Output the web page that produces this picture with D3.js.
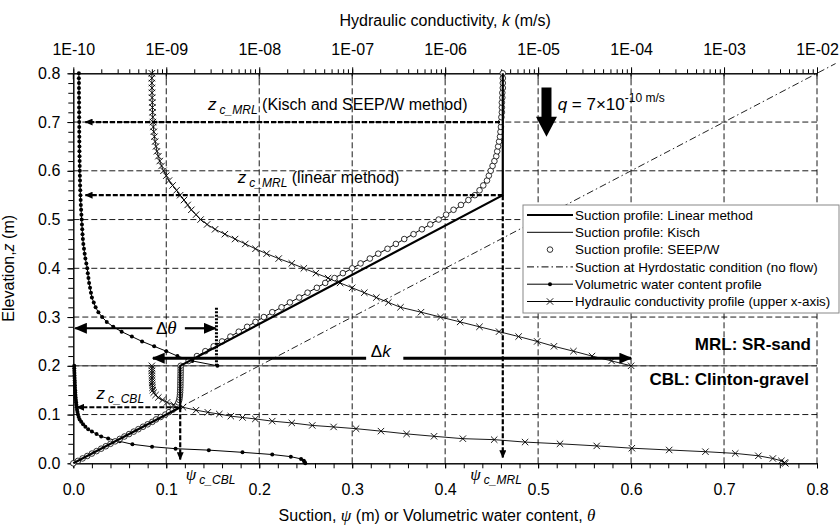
<!DOCTYPE html>
<html>
<head>
<meta charset="utf-8">
<style>
  body { margin: 0; background: #fff; }
  svg { font-family: "Liberation Sans", Arial, sans-serif; }
  .axis text { font-size: 16px; fill: #000; font-family: "Liberation Sans", Arial, sans-serif; }
  .axis path, .axis line { stroke: #000; }
  .legend text { font-size: 13.4px; }
  .greek { font-family: "Liberation Serif", "DejaVu Serif", serif; font-style: italic; }
</style>
</head>
<body>
<svg width="840" height="526"></svg>
<script src="https://d3js.org/d3.v7.min.js"></script>
<script>

// ---- data ----
// suction profiles, [suction psi (m), elevation z (m)]
var linearProfile = [[0, 0], [0.115, 0.115], [0.115, 0.2], [0.462, 0.55], [0.462, 0.8]];

var kischProfile = [[0, 0], [0.05, 0.05], [0.099, 0.10], [0.107, 0.11], [0.112, 0.12], [0.114, 0.13],
  [0.115, 0.15], [0.1155, 0.20], [0.160, 0.25], [0.205, 0.30], [0.252, 0.35], [0.300, 0.40],
  [0.347, 0.45], [0.393, 0.50], [0.414, 0.525], [0.432, 0.55], [0.442, 0.575], [0.449, 0.60],
  [0.454, 0.625], [0.457, 0.65], [0.460, 0.70], [0.461, 0.75], [0.462, 0.80]];

var seepProfile = [
  [0, 0], [0.005, 0.005], [0.010, 0.010], [0.015, 0.015], [0.020, 0.020], [0.025, 0.025],
  [0.030, 0.030], [0.035, 0.035], [0.040, 0.040], [0.045, 0.045], [0.050, 0.050], [0.055, 0.055],
  [0.060, 0.060], [0.065, 0.065], [0.070, 0.070], [0.075, 0.075], [0.080, 0.080], [0.085, 0.085],
  [0.089, 0.090], [0.094, 0.095], [0.099, 0.100], [0.103, 0.105], [0.107, 0.110], [0.110, 0.115],
  [0.112, 0.120], [0.113, 0.125], [0.114, 0.130], [0.1144, 0.135], [0.1147, 0.140], [0.1149, 0.145],
  [0.115, 0.150], [0.1151, 0.155], [0.1152, 0.160], [0.1152, 0.165], [0.1153, 0.170], [0.1153, 0.175],
  [0.1154, 0.180], [0.1154, 0.185], [0.1155, 0.190], [0.1155, 0.195], [0.1155, 0.200],
  [0.124, 0.21], [0.133, 0.22], [0.142, 0.23], [0.151, 0.24], [0.160, 0.25], [0.169, 0.26],
  [0.178, 0.27], [0.187, 0.28], [0.196, 0.29], [0.205, 0.30], [0.214, 0.31], [0.224, 0.32],
  [0.233, 0.33], [0.243, 0.34], [0.252, 0.35], [0.262, 0.36], [0.271, 0.37], [0.281, 0.38],
  [0.290, 0.39], [0.300, 0.40], [0.309, 0.41], [0.319, 0.42], [0.328, 0.43], [0.338, 0.44],
  [0.347, 0.45], [0.356, 0.46], [0.366, 0.47], [0.375, 0.48], [0.384, 0.49], [0.393, 0.50],
  [0.401, 0.51], [0.409, 0.52], [0.417, 0.53], [0.425, 0.54], [0.432, 0.55], [0.437, 0.56],
  [0.441, 0.57], [0.445, 0.58], [0.447, 0.59], [0.449, 0.60], [0.451, 0.61], [0.453, 0.62],
  [0.455, 0.63], [0.456, 0.64], [0.457, 0.65], [0.458, 0.66], [0.459, 0.67], [0.4595, 0.68],
  [0.460, 0.69], [0.460, 0.70], [0.4605, 0.71], [0.461, 0.72], [0.461, 0.73], [0.461, 0.74],
  [0.4615, 0.75], [0.4615, 0.76], [0.462, 0.77], [0.462, 0.78], [0.462, 0.79], [0.462, 0.80]];

var hydrostatic = [[0, 0], [0.82, 0.82]];

// volumetric water content, [theta, z]
var vwcMRL = [
  [0.155, 0.20], [0.128, 0.21], [0.112, 0.22], [0.100, 0.23], [0.087, 0.24], [0.074, 0.25],
  [0.063, 0.26], [0.052, 0.27], [0.043, 0.28], [0.036, 0.29], [0.031, 0.30], [0.027, 0.31],
  [0.024, 0.32], [0.022, 0.33], [0.020, 0.34], [0.019, 0.35], [0.018, 0.36], [0.017, 0.37],
  [0.0163, 0.38], [0.0156, 0.39], [0.0150, 0.40], [0.0140, 0.41], [0.0130, 0.42], [0.0122, 0.43],
  [0.0115, 0.44], [0.0108, 0.45], [0.0103, 0.46], [0.0099, 0.47], [0.0096, 0.48], [0.0093, 0.49],
  [0.0090, 0.50], [0.0087, 0.51], [0.0084, 0.52], [0.0081, 0.53], [0.0079, 0.54], [0.0077, 0.55],
  [0.0075, 0.56], [0.0073, 0.57], [0.0072, 0.58], [0.0071, 0.59], [0.0070, 0.60], [0.0069, 0.61],
  [0.0068, 0.62], [0.0067, 0.63], [0.0066, 0.64], [0.0066, 0.65], [0.0065, 0.66], [0.0065, 0.67],
  [0.0064, 0.68], [0.0064, 0.69], [0.0064, 0.70], [0.0063, 0.71], [0.0063, 0.72], [0.0062, 0.73],
  [0.0062, 0.74], [0.0062, 0.75], [0.0061, 0.76], [0.0061, 0.77], [0.0061, 0.78], [0.0060, 0.79],
  [0.0060, 0.80]];

var vwcCBL = [
  [0.001, 0.200], [0.001, 0.195], [0.0011, 0.190], [0.0012, 0.185], [0.0013, 0.180], [0.0014, 0.175],
  [0.0015, 0.170], [0.0016, 0.165], [0.0017, 0.160], [0.0018, 0.155], [0.002, 0.150], [0.0021, 0.145],
  [0.0023, 0.140], [0.0025, 0.135], [0.0028, 0.130], [0.003, 0.125], [0.0033, 0.120], [0.0037, 0.115],
  [0.004, 0.110], [0.0045, 0.105], [0.005, 0.100], [0.0058, 0.095], [0.0068, 0.090], [0.0085, 0.085],
  [0.0105, 0.080], [0.013, 0.075], [0.016, 0.070], [0.020, 0.065], [0.025, 0.060], [0.030, 0.055],
  [0.0375, 0.051], [0.050, 0.045], [0.0636, 0.039], [0.0847, 0.034], [0.110, 0.030], [0.1458, 0.027],
  [0.182, 0.0225], [0.214, 0.018], [0.234, 0.0136], [0.245, 0.009], [0.248, 0.005], [0.249, 0.002],
  [0.2495, 0.0]];

// hydraulic conductivity, [k (m/s), z]  (upper axis)
var kMRL = [
  [7.00e-10, 0.80], [7.00e-10, 0.79], [7.00e-10, 0.78], [7.02e-10, 0.77], [7.03e-10, 0.76],
  [7.05e-10, 0.75], [7.08e-10, 0.74], [7.10e-10, 0.73], [7.13e-10, 0.72], [7.16e-10, 0.71],
  [7.19e-10, 0.70], [7.26e-10, 0.69], [7.34e-10, 0.68], [7.46e-10, 0.67], [7.59e-10, 0.66],
  [7.76e-10, 0.65], [7.94e-10, 0.64], [8.22e-10, 0.63], [8.51e-10, 0.62], [8.91e-10, 0.61],
  [9.33e-10, 0.60], [1.00e-9, 0.59], [1.07e-9, 0.58], [1.17e-9, 0.57], [1.29e-9, 0.56],
  [1.41e-9, 0.55], [1.55e-9, 0.54], [1.70e-9, 0.53], [1.86e-9, 0.52], [2.09e-9, 0.51],
  [2.34e-9, 0.50], [2.75e-9, 0.49], [3.35e-9, 0.48], [4.27e-9, 0.47], [5.50e-9, 0.46],
  [7.08e-9, 0.45], [9.12e-9, 0.44], [1.20e-8, 0.43], [1.62e-8, 0.42], [2.24e-8, 0.41],
  [3.02e-8, 0.40], [4.07e-8, 0.39], [5.50e-8, 0.38], [7.41e-8, 0.37], [1.00e-7, 0.36],
  [1.35e-7, 0.35], [1.82e-7, 0.34], [2.45e-7, 0.33], [3.31e-7, 0.32], [5.50e-7, 0.31],
  [8.91e-7, 0.30], [1.45e-6, 0.29], [2.34e-6, 0.28], [3.80e-6, 0.27], [6.17e-6, 0.26],
  [9.77e-6, 0.25], [1.48e-5, 0.24], [2.40e-5, 0.23], [3.80e-5, 0.22], [6.17e-5, 0.21],
  [1.00e-4, 0.20]];

var kCBL = [
  [7.00e-10, 0.200], [7.00e-10, 0.195], [7.00e-10, 0.190], [7.00e-10, 0.185], [7.02e-10, 0.180],
  [7.02e-10, 0.175], [7.03e-10, 0.170], [7.05e-10, 0.165], [7.08e-10, 0.160], [7.11e-10, 0.155],
  [7.16e-10, 0.150], [7.33e-10, 0.145], [7.67e-10, 0.140], [8.22e-10, 0.135], [9.12e-10, 0.130],
  [1.02e-9, 0.125], [1.20e-9, 0.120], [1.51e-9, 0.115], [2.09e-9, 0.109], [2.80e-9, 0.1046],
  [3.72e-9, 0.101], [4.95e-9, 0.0967], [6.61e-9, 0.094], [9.08e-9, 0.091], [1.38e-8, 0.0865],
  [2.24e-8, 0.0828], [3.72e-8, 0.0777], [6.31e-8, 0.0746], [1.10e-7, 0.071], [2.04e-7, 0.066],
  [3.85e-7, 0.0603], [7.59e-7, 0.0554], [1.55e-6, 0.0505], [3.37e-6, 0.0485], [7.24e-6, 0.0435],
  [1.72e-5, 0.040], [4.27e-5, 0.0357], [1.02e-4, 0.031], [2.57e-4, 0.0273], [6.31e-4, 0.0238],
  [1.32e-3, 0.0203], [2.34e-3, 0.0154], [3.35e-3, 0.0099], [4.14e-3, 0.005], [4.47e-3, 0.0014],
  [4.57e-3, 0.0]];

var xTicks = [0, 0.1, 0.2, 0.3, 0.4, 0.5, 0.6, 0.7, 0.8];
var yTicks = [0, 0.1, 0.2, 0.3, 0.4, 0.5, 0.6, 0.7, 0.8];
var kTicks = [1e-10, 1e-9, 1e-8, 1e-7, 1e-6, 1e-5, 1e-4, 1e-3, 1e-2];
var kTickLabels = ["1E-10", "1E-09", "1E-08", "1E-07", "1E-06", "1E-05", "1E-04", "1E-03", "1E-02"];

var legendLabels = [
  "Suction profile: Linear method",
  "Suction profile: Kisch",
  "Suction profile: SEEP/W",
  "Suction at Hyrdostatic condition (no flow)",
  "Volumetric water content profile",
  "Hydraulic conductivity profile (upper x-axis)"];

// ---- chart ----
var svg = d3.select("svg"),
    width = +svg.attr("width"),
    height = +svg.attr("height"),
    margin = {top: 73.3, right: 23, bottom: 62.7, left: 73.3};

var x = d3.scaleLinear().domain([0, 0.8]).range([margin.left, width - margin.right]);
var y = d3.scaleLinear().domain([0, 0.8]).range([height - margin.bottom, margin.top]);
var xk = d3.scaleLog().domain([1e-10, 1e-2]).range(x.range());

var defs = svg.append("defs");
function arrowMarker(id, w, h) {
  defs.append("marker")
      .attr("id", id)
      .attr("viewBox", "0 0 10 10")
      .attr("refX", 9).attr("refY", 5)
      .attr("markerUnits", "userSpaceOnUse")
      .attr("markerWidth", w).attr("markerHeight", h)
      .attr("preserveAspectRatio", "none")
      .attr("orient", "auto-start-reverse")
    .append("path")
      .attr("d", "M0,0L10,5L0,10Z")
      .attr("fill", "#000");
}
arrowMarker("headS", 8, 7);
arrowMarker("headL", 13, 11);

// grid
var grid = svg.append("g")
    .attr("stroke", "#000")
    .attr("stroke-width", 0.9)
    .attr("stroke-dasharray", "6,3");
grid.selectAll("line.v")
  .data(xTicks.slice(1))
  .enter().append("line")
    .attr("class", "v")
    .attr("x1", function(d) { return x(d); })
    .attr("x2", function(d) { return x(d); })
    .attr("y1", y(0)).attr("y2", y(0.8));
grid.selectAll("line.h")
  .data(yTicks.slice(1, -1))
  .enter().append("line")
    .attr("class", "h")
    .attr("x1", x(0)).attr("x2", x(0.8))
    .attr("y1", function(d) { return y(d); })
    .attr("y2", function(d) { return y(d); });

// layer boundary
svg.append("line")
    .attr("x1", x(0)).attr("x2", x(0.8))
    .attr("y1", y(0.2)).attr("y2", y(0.2))
    .attr("stroke", "#444").attr("stroke-width", 1);

// axes
svg.append("g").attr("class", "axis")
    .attr("transform", "translate(0," + y(0) + ")")
    .call(d3.axisBottom(x).tickValues(x.ticks(40)).tickSize(5).tickSizeOuter(0).tickFormat(""));
svg.append("g").attr("class", "axis")
    .attr("transform", "translate(0," + y(0) + ")")
    .call(d3.axisBottom(x).tickValues(xTicks).tickSize(5).tickSizeOuter(0)
      .tickPadding(15).tickFormat(d3.format(".1f")));

svg.append("g").attr("class", "axis")
    .attr("transform", "translate(" + x(0) + ",0)")
    .call(d3.axisLeft(y).tickValues(y.ticks(40)).tickSize(5).tickSizeOuter(0).tickFormat(""));
svg.append("g").attr("class", "axis")
    .attr("transform", "translate(" + x(0) + ",0)")
    .call(d3.axisLeft(y).tickValues(yTicks).tickSize(6).tickSizeOuter(0)
      .tickPadding(7).tickFormat(d3.format(".1f")));

svg.append("g").attr("class", "axis")
    .attr("transform", "translate(0," + y(0.8) + ")")
    .call(d3.axisTop(xk).tickValues(xk.ticks()).tickSize(4).tickSizeOuter(0).tickFormat(""));
svg.append("g").attr("class", "axis")
    .attr("transform", "translate(0," + y(0.8) + ")")
    .call(d3.axisTop(xk).tickValues(kTicks).tickSize(6).tickSizeOuter(0)
      .tickPadding(12).tickFormat(function(d, i) { return kTickLabels[i]; }));
// major k ticks cross the axis line
svg.append("g").selectAll("line")
  .data(kTicks)
  .enter().append("line")
    .attr("x1", function(d) { return xk(d); })
    .attr("x2", function(d) { return xk(d); })
    .attr("y1", y(0.8)).attr("y2", y(0.8) + 6)
    .attr("stroke", "#000");

// axis titles
var topTitle = svg.append("text")
    .attr("x", (x(0) + x(0.8)) / 2).attr("y", 26)
    .attr("text-anchor", "middle").attr("font-size", 16);
topTitle.append("tspan").text("Hydraulic conductivity, ");
topTitle.append("tspan").attr("font-style", "italic").text("k");
topTitle.append("tspan").text(" (m/s)");

var botTitle = svg.append("text")
    .attr("x", 437).attr("y", 521)
    .attr("text-anchor", "middle").attr("font-size", 16);
botTitle.append("tspan").text("Suction, ");
botTitle.append("tspan").attr("class", "greek").attr("font-size", 17).text("ψ");
botTitle.append("tspan").text(" (m) or Volumetric water content, ");
botTitle.append("tspan").attr("class", "greek").attr("font-size", 17).text("θ");

var leftTitle = svg.append("text")
    .attr("transform", "translate(14," + (y(0.4)) + ") rotate(-90)")
    .attr("text-anchor", "middle").attr("font-size", 16);
leftTitle.append("tspan").text("Elevation,");
leftTitle.append("tspan").attr("font-style", "italic").text("z");
leftTitle.append("tspan").text(" (m)");

// hydrostatic line
var line = d3.line()
    .x(function(d) { return x(d[0]); })
    .y(function(d) { return y(d[1]); });
var lineK = d3.line()
    .x(function(d) { return xk(d[0]); })
    .y(function(d) { return y(d[1]); });

svg.append("path")
    .datum(hydrostatic)
    .attr("d", line)
    .attr("fill", "none").attr("stroke", "#222")
    .attr("stroke-width", 1)
    .attr("stroke-dasharray", "7,3,1.5,3");

// volumetric water content
[vwcMRL, vwcCBL].forEach(function(series) {
  svg.append("path")
      .datum(series)
      .attr("d", line)
      .attr("fill", "none").attr("stroke", "#000").attr("stroke-width", 1);
  svg.append("g").selectAll("circle")
    .data(series)
    .enter().append("circle")
      .attr("cx", function(d) { return x(d[0]); })
      .attr("cy", function(d) { return y(d[1]); })
      .attr("r", 2)
      .attr("fill", "#000");
});

// hydraulic conductivity
[kMRL, kCBL].forEach(function(series) {
  svg.append("path")
      .datum(series)
      .attr("d", lineK)
      .attr("fill", "none").attr("stroke", "#000").attr("stroke-width", 0.9);
  svg.append("g").selectAll("path")
    .data(series)
    .enter().append("path")
      .attr("transform", function(d) { return "translate(" + xk(d[0]) + "," + y(d[1]) + ")"; })
      .attr("d", "M-3.2,-3.2L3.2,3.2M-3.2,3.2L3.2,-3.2")
      .attr("stroke", "#000").attr("stroke-width", 0.9);
});

// suction: Kisch, SEEP/W, linear
svg.append("path")
    .datum(kischProfile)
    .attr("d", line)
    .attr("fill", "none").attr("stroke", "#000").attr("stroke-width", 1);

svg.append("g").selectAll("circle")
  .data(seepProfile)
  .enter().append("circle")
    .attr("cx", function(d) { return x(d[0]); })
    .attr("cy", function(d) { return y(d[1]); })
    .attr("r", 2.8)
    .attr("fill", "#fff")
    .attr("stroke", "#000").attr("stroke-width", 0.8);

svg.append("path")
    .datum(linearProfile)
    .attr("d", line)
    .attr("fill", "none").attr("stroke", "#000").attr("stroke-width", 2.2);

// ---- annotations ----
var ann = svg.append("g");

function dashArrow(x1, y1, x2, y2) {
  ann.append("line")
      .attr("x1", x1).attr("y1", y1).attr("x2", x2).attr("y2", y2)
      .attr("stroke", "#000").attr("stroke-width", 2.2)
      .attr("stroke-dasharray", "5,2")
      .attr("marker-end", "url(#headS)");
}
dashArrow(x(0.459), y(0.70), x(0.013), y(0.70));
dashArrow(x(0.462), y(0.55), x(0.013), y(0.55));
dashArrow(x(0.113), y(0.115), x(0.004), y(0.115));
dashArrow(x(0.462), y(0.55), x(0.462), y(0.012));
dashArrow(x(0.115), y(0.115), x(0.115), y(0.008));

// delta theta
ann.append("line")
    .attr("x1", x(0.085)).attr("x2", x(0.002))
    .attr("y1", y(0.277)).attr("y2", y(0.277))
    .attr("stroke", "#000").attr("stroke-width", 2.2)
    .attr("marker-end", "url(#headL)");
ann.append("line")
    .attr("x1", x(0.12)).attr("x2", x(0.153))
    .attr("y1", y(0.277)).attr("y2", y(0.277))
    .attr("stroke", "#000").attr("stroke-width", 2.2)
    .attr("marker-end", "url(#headL)");
ann.append("line")
    .attr("x1", x(0.154)).attr("x2", x(0.154))
    .attr("y1", y(0.2)).attr("y2", y(0.32))
    .attr("stroke", "#000").attr("stroke-width", 3)
    .attr("stroke-dasharray", "2,1.5");
var dTheta = ann.append("text")
    .attr("x", x(0.1)).attr("y", y(0.265))
    .attr("text-anchor", "middle").attr("font-size", 17);
dTheta.append("tspan").text("Δ");
dTheta.append("tspan").attr("class", "greek").attr("font-size", 19).text("θ");

// delta k : double arrow with its label sitting in a white box on the line
ann.append("line")
    .attr("x1", xk(7.2e-10)).attr("x2", xk(1e-4))
    .attr("y1", y(0.2156)).attr("y2", y(0.2156))
    .attr("stroke", "#000").attr("stroke-width", 3)
    .attr("marker-start", "url(#headL)")
    .attr("marker-end", "url(#headL)");
ann.append("rect")
    .attr("x", x(0.315)).attr("y", y(0.252))
    .attr("width", x(0.355) - x(0.315)).attr("height", y(0.206) - y(0.252))
    .attr("fill", "#fff");
var dK = ann.append("text")
    .attr("x", x(0.32)).attr("y", y(0.2175))
    .attr("font-size", 17);
dK.append("tspan").text("Δ");
dK.append("tspan").attr("font-style", "italic").text("k");

// critical elevation / suction labels
function subLabel(px, py, main, sub, rest, greek) {
  var t = ann.append("text").attr("x", px).attr("y", py).attr("font-size", 16);
  t.append("tspan")
      .attr("class", greek ? "greek" : null)
      .attr("font-style", "italic")
      .attr("font-size", 17)
      .text(main);
  t.append("tspan")
      .attr("font-style", "italic").attr("font-size", 12)
      .attr("dx", 3).attr("dy", 4)
      .text(sub);
  if (rest) t.append("tspan").attr("dy", -4).text(rest);
  return t;
}
subLabel(x(0.145), y(0.724), "z", "c_MRL", " (Kisch and SEEP/W method)");
subLabel(x(0.177), y(0.576), "z", "c_MRL", " (linear method)");
subLabel(x(0.025), y(0.132), "z", "c_CBL");
subLabel(x(0.121), y(-0.034), "ψ", "c_CBL", null, true);
subLabel(x(0.427), y(-0.034), "ψ", "c_MRL", null, true);

// layer names
ann.append("text")
    .attr("x", 811).attr("y", y(0.232))
    .attr("text-anchor", "end").attr("font-size", 17).attr("font-weight", "bold")
    .text("MRL: SR-sand");
ann.append("text")
    .attr("x", 809).attr("y", y(0.161))
    .attr("text-anchor", "end").attr("font-size", 17).attr("font-weight", "bold")
    .text("CBL: Clinton-gravel");

// infiltration arrow q
var qx = x(0.509), qy1 = y(0.771), qy2 = y(0.670);
ann.append("path")
    .attr("d", "M" + (qx - 5) + "," + qy1 + "L" + (qx + 5) + "," + qy1 +
               "L" + (qx + 5) + "," + (qy2 - 20) + "L" + (qx + 10.5) + "," + (qy2 - 20) +
               "L" + qx + "," + qy2 + "L" + (qx - 10.5) + "," + (qy2 - 20) +
               "L" + (qx - 5) + "," + (qy2 - 20) + "Z")
    .attr("fill", "#000");
var qText = ann.append("text")
    .attr("x", x(0.521)).attr("y", y(0.724))
    .attr("font-size", 17);
qText.append("tspan").attr("font-style", "italic").text("q");
qText.append("tspan").text(" = 7×10");
qText.append("tspan").attr("font-size", 12).attr("dy", -8).text("-10 m/s");

// ---- legend ----
var legend = svg.append("g").attr("class", "legend");
legend.append("rect")
    .attr("x", 523).attr("y", 205)
    .attr("width", 316).attr("height", 108)
    .attr("fill", "#fff").attr("stroke", "#888").attr("stroke-width", 1);

var rows = legend.selectAll("g.row")
  .data(legendLabels)
  .enter().append("g")
    .attr("class", "row")
    .attr("transform", function(d, i) { return "translate(527," + (215 + i * 17.3) + ")"; });

rows.append("text")
    .attr("x", 48).attr("dy", "0.35em")
    .text(function(d) { return d; });

rows.each(function(d, i) {
  var r = d3.select(this);
  if (i !== 2) {
    r.append("line")
        .attr("x1", 0).attr("x2", 46)
        .attr("stroke", "#000")
        .attr("stroke-width", i === 0 ? 2.2 : 1)
        .attr("stroke-dasharray", i === 3 ? "7,3,1.5,3" : null);
  }
  if (i === 2) {
    r.append("circle").attr("cx", 23).attr("r", 2.8)
        .attr("fill", "#fff").attr("stroke", "#000").attr("stroke-width", 0.8);
  }
  if (i === 4) {
    r.append("circle").attr("cx", 23).attr("r", 2).attr("fill", "#000");
  }
  if (i === 5) {
    r.append("path").attr("transform", "translate(23,0)")
        .attr("d", "M-3.2,-3.2L3.2,3.2M-3.2,3.2L3.2,-3.2")
        .attr("stroke", "#000").attr("stroke-width", 0.9);
  }
});

</script>
</body>
</html>
